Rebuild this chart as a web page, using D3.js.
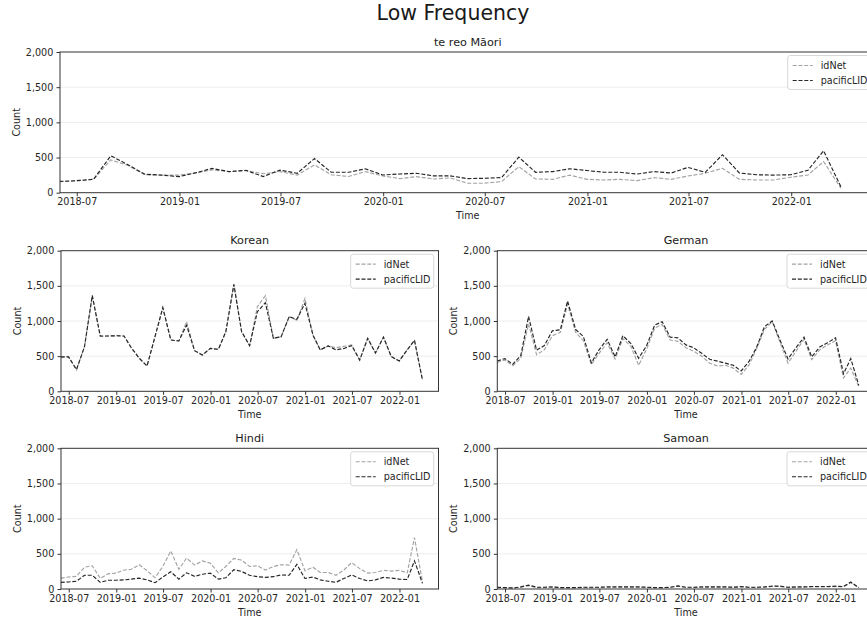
<!DOCTYPE html>
<html><head><meta charset="utf-8">
<script src="https://cdn.jsdelivr.net/npm/d3@7/dist/d3.min.js"></script>
<style>body{margin:0;background:#fff}svg{display:block;font-family:"DejaVu Sans",sans-serif}</style>
</head><body><svg id="chart" width="867" height="620"></svg>
<script>
// ---------- data ----------
const months = ["2018-05-31","2018-06-30","2018-07-31","2018-08-31","2018-09-30","2018-10-31","2018-11-30","2018-12-31",
"2019-01-31","2019-02-28","2019-03-31","2019-04-30","2019-05-31","2019-06-30","2019-07-31","2019-08-31","2019-09-30","2019-10-31","2019-11-30","2019-12-31",
"2020-01-31","2020-02-29","2020-03-31","2020-04-30","2020-05-31","2020-06-30","2020-07-31","2020-08-31","2020-09-30","2020-10-31","2020-11-30","2020-12-31",
"2021-01-31","2021-02-28","2021-03-31","2021-04-30","2021-05-31","2021-06-30","2021-07-31","2021-08-31","2021-09-30","2021-10-31","2021-11-30","2021-12-31",
"2022-01-31","2022-02-28","2022-03-31"];

const maoriIdNet      = [155,170,190,465,390,255,250,250,280,325,300,315,270,300,250,395,255,230,300,238,200,228,195,210,135,135,158,370,195,190,250,190,181,190,171,214,190,238,276,347,190,181,181,219,252,442,63];
const maoriPacificLID = [160,170,190,525,400,262,250,228,285,345,300,318,230,320,276,485,290,290,340,252,266,276,240,240,200,205,215,505,290,300,340,315,290,290,265,300,280,360,290,540,280,255,250,255,320,595,85];

const koreanIdNet      = [480,495,300,640,1350,780,786,790,786,620,470,360,780,1190,730,716,990,578,516,611,597,848,1520,848,650,1205,1360,754,777,1061,1010,1320,801,590,645,620,640,660,445,754,545,770,495,431,590,725,161];
const koreanPacificLID = [490,490,310,635,1365,786,786,790,786,620,470,360,780,1190,730,716,940,578,516,611,597,848,1520,848,650,1133,1260,754,777,1061,1024,1251,801,590,645,590,610,650,445,754,545,770,495,431,590,725,161];

const germanIdNet      = [410,445,365,470,960,520,590,790,840,1240,840,720,380,540,690,460,750,640,370,600,900,950,730,710,620,570,500,400,360,370,330,240,380,600,880,990,690,400,570,740,450,590,660,720,190,330,65];
const germanPacificLID = [430,465,385,510,1065,585,650,860,875,1285,880,780,405,590,740,490,790,680,470,650,940,990,770,760,660,620,540,455,430,400,370,290,430,620,920,1000,720,460,620,770,490,630,690,760,250,465,85];

const hindiIdNet      = [155,170,180,310,330,150,215,225,270,280,345,260,160,320,540,280,440,340,400,365,230,320,435,410,320,330,270,320,345,340,560,260,310,235,235,195,270,375,290,225,235,265,255,265,230,730,100];
const hindiPacificLID = [95,100,110,195,195,95,125,125,130,140,155,130,90,170,245,140,230,180,210,225,140,160,275,250,195,175,165,175,200,195,350,150,170,130,110,95,150,200,150,115,130,165,155,140,135,400,80];

const samoanIdNet      = [20,18,12,25,48,20,22,25,18,18,18,20,20,22,25,25,26,26,25,22,18,18,22,40,22,22,25,26,26,25,22,30,22,22,25,35,35,22,25,26,30,30,30,35,30,90,18];
const samoanPacificLID = [25,20,15,30,55,25,25,30,20,20,20,25,25,25,30,30,30,30,30,25,20,20,25,45,25,25,30,30,30,30,25,35,25,25,30,40,40,25,30,30,35,35,35,40,35,100,20];

const yTickValues = [0, 500, 1000, 1500, 2000];
const xDomainDates = ["2018-06-01", "2022-06-01"];
const seriesNames = ["idNet", "pacificLID"];

// ---------- layout / style ----------
const panels = [
  {title:"te reo Māori", data:[maoriIdNet, maoriPacificLID],   x0:60,    x1:875.5, y0:52,    y1:192.7},
  {title:"Korean",       data:[koreanIdNet, koreanPacificLID], x0:61,    x1:438.5, y0:250.7, y1:391.3},
  {title:"German",       data:[germanIdNet, germanPacificLID], x0:497.3, x1:874.8, y0:250.7, y1:391.3},
  {title:"Hindi",        data:[hindiIdNet, hindiPacificLID],   x0:61,    x1:438.5, y0:448.3, y1:589},
  {title:"Samoan",       data:[samoanIdNet, samoanPacificLID], x0:497.3, x1:874.8, y0:448.3, y1:589}
];
const colors = ["#a3a3a3", "#262626"];
const fs = 9.6;
const parse = d3.timeParse("%Y-%m-%d");
const dates = months.map(parse);
const svg = d3.select("#chart");

svg.append("text").attr("x", 453).attr("y", 19.5).attr("text-anchor","middle")
  .attr("font-size", 20.5).attr("fill","#1a1a1a").text("Low Frequency");

panels.forEach((p, i) => {
  const x = d3.scaleTime().domain(xDomainDates.map(parse)).range([p.x0, p.x1]);
  const y = d3.scaleLinear().domain([0, 2000]).range([p.y1, p.y0]);
  const g = svg.append("g");
  const clipId = "clip" + i;
  g.append("clipPath").attr("id", clipId).append("rect")
    .attr("x", p.x0).attr("y", p.y0).attr("width", p.x1 - p.x0).attr("height", p.y1 - p.y0);

  // grid
  g.selectAll(".grid").data(yTickValues.slice(1, -1)).join("line")
    .attr("x1", p.x0).attr("x2", p.x1).attr("y1", d => y(d)).attr("y2", d => y(d))
    .attr("stroke", "#ebebeb").attr("stroke-width", 0.9);

  // lines
  const line = d3.line().x((d, j) => x(dates[j])).y(d => y(d));
  p.data.forEach((s, k) => {
    g.append("path").datum(s).attr("d", line).attr("clip-path", `url(#${clipId})`)
      .attr("fill", "none").attr("stroke", colors[k]).attr("stroke-width", 1.15)
      .attr("stroke-dasharray", "4,1.8");
  });

  // spines
  g.append("rect").attr("x", p.x0).attr("y", p.y0).attr("width", p.x1 - p.x0).attr("height", p.y1 - p.y0)
    .attr("fill", "none").attr("stroke", "#333").attr("stroke-width", 1);

  // axes
  const xAxis = d3.axisBottom(x).ticks(d3.timeMonth.every(6)).tickFormat(d3.timeFormat("%Y-%m"))
    .tickSize(3.5).tickPadding(2.4);
  const ax = g.append("g").attr("transform", `translate(0,${p.y1})`).call(xAxis);
  ax.select(".domain").remove();
  ax.selectAll("line").attr("stroke", "#333");
  ax.selectAll("text").attr("font-size", fs).attr("font-family", "DejaVu Sans").attr("fill", "#262626");

  const yAxis = d3.axisLeft(y).tickValues(yTickValues).tickFormat(d3.format(",")).tickSize(3.5).tickPadding(3.2);
  const ay = g.append("g").attr("transform", `translate(${p.x0},0)`).call(yAxis);
  ay.select(".domain").remove();
  ay.selectAll("line").attr("stroke", "#333");
  ay.selectAll("text").attr("font-size", fs).attr("font-family", "DejaVu Sans").attr("fill", "#262626");

  // labels
  const cx = (p.x0 + p.x1) / 2;
  g.append("text").attr("x", cx).attr("y", p.y0 - 6.5).attr("text-anchor", "middle")
    .attr("font-size", 11.2).attr("fill", "#1a1a1a").text(p.title);
  g.append("text").attr("x", cx).attr("y", p.y1 + 26.5).attr("text-anchor", "middle")
    .attr("font-size", fs).attr("fill", "#262626").text("Time");
  const lx = p.x0 - 44;
  const ly = (p.y0 + p.y1) / 2;
  g.append("text").attr("transform", `translate(${lx},${ly}) rotate(-90)`).attr("text-anchor", "middle")
    .attr("dominant-baseline", "central").attr("font-size", fs).attr("fill", "#262626").text("Count");

  // legend
  const lw = 83, lh = 34;
  const lxr = p.x1 - 4.8, lyt = p.y0 + 3.5;
  const lg = g.append("g").attr("transform", `translate(${lxr - lw},${lyt})`);
  lg.append("rect").attr("width", lw).attr("height", lh).attr("rx", 2.5)
    .attr("fill", "#fff").attr("fill-opacity", 0.85).attr("stroke", "#d4d4d4").attr("stroke-width", 0.9);
  seriesNames.forEach((n, k) => {
    const yy = 10 + k * 15;
    lg.append("line").attr("x1", 5).attr("x2", 25).attr("y1", yy).attr("y2", yy)
      .attr("stroke", colors[k]).attr("stroke-width", 1.15).attr("stroke-dasharray", "4,1.8");
    lg.append("text").attr("x", 33).attr("y", yy).attr("dominant-baseline", "central")
      .attr("font-size", fs).attr("fill", "#262626").text(n);
  });
});
</script></body></html>
